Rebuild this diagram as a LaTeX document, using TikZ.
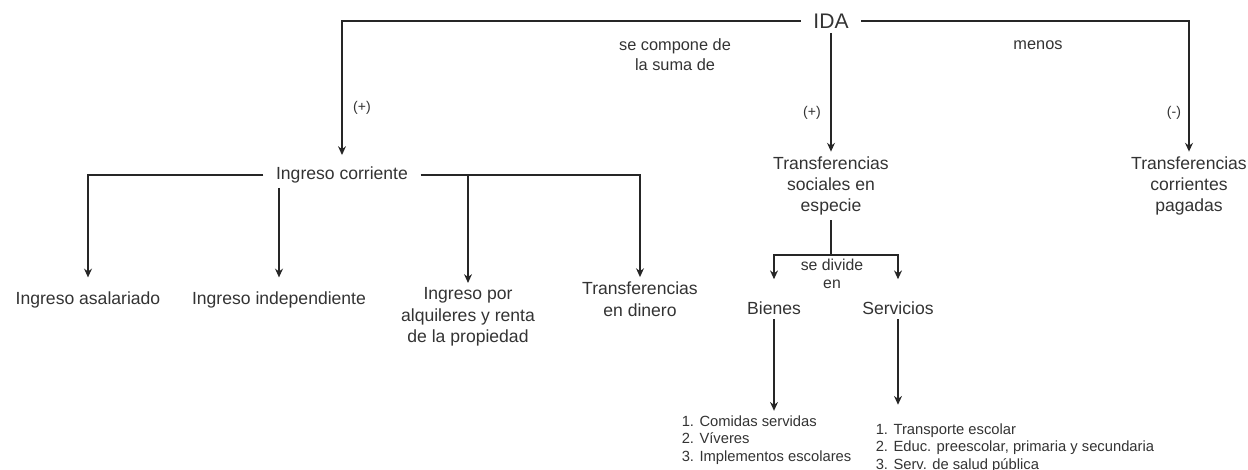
\documentclass[tikz,border=0pt]{standalone}
\usepackage{fontspec}
\setmainfont{Liberation Sans}
\usetikzlibrary{arrows.meta}

\begin{document}
\begin{tikzpicture}[x=0.02cm, y=-0.02cm,
	every node/.style={text=black!80, inner sep=2.5pt},
	box/.style={align=center, font=\fontsize{10}{12.2}\selectfont},
	hub/.style={box, inner xsep=7pt},
	lbl/.style={align=center, font=\fontsize{9.3}{11.4}\selectfont},
	sgn/.style={font=\fontsize{8}{10}\selectfont},
	lst/.style={align=left, anchor=west, font=\fontsize{8.4}{10}\selectfont},
	ln/.style={draw=black!85, line width=0.8pt},
	arr/.style={ln, -{Stealth[length=5pt, width=4.5pt]}},
	]
	\useasboundingbox (0,0) rectangle (1248,470);

	\node[hub, font=\fontsize{12}{14}\selectfont] (IDA) at (831,21) {IDA};
	\node[hub] (IngCor) at (342,175) {Ingreso corriente};
	\node[box] (TransSoc) at (831,186) {Transferencias\\sociales en\\especie};
	\node[box] (TransPag) at (1189,186) {Transferencias\\corrientes\\pagadas};

	\node[box] (IngAsal) at (88,300) {Ingreso asalariado};
	\node[box] (IngInd) at (279,300) {Ingreso independiente};
	\node[box] (IngAlq) at (468,317) {Ingreso por\\alquileres y renta\\de la propiedad};
	\node[box] (TransDin) at (640,299) {Transferencias\\en dinero};

	\node[box] (Bien) at (774,308) {Bienes};
	\node[box] (Serv) at (898,308) {Servicios};
	\node[lst] (BienList) at (677,440) {1. Comidas servidas\\2. Víveres\\3. Implementos escolares};
	\node[lst] (ServList) at (871,448) {1. Transporte escolar\\2. Educ. preescolar, primaria y secundaria\\3. Serv. de salud pública};

	\node[lbl] (Comp) at (675,55) {se compone de\\la suma de};
	\node[lbl] (Menos) at (1038,45) {menos};
	\node[lbl, font=\fontsize{9}{10.2}\selectfont] (Div) at (832,274) {se divide\\en};
	\node[sgn] (SgnA) at (362,108) {(+)};
	\node[sgn] (SgnB) at (812,113) {(+)};
	\node[sgn] (SgnC) at (1174,113) {(-)};

	\coordinate (Split) at (831,255);

	\draw[arr, shorten >=4pt] (IDA.west) -| (IngCor.north);
	\draw[arr] (IDA.south) -- (TransSoc.north);
	\draw[arr] (IDA.east) -| (TransPag.north);

	\draw[arr, shorten >=5.5pt] (IngCor.west) -| (IngAsal.north);
	\draw[arr, shorten >=5.5pt] (IngInd |- IngCor.south) -- (IngInd.north);
	\draw[arr] (IngCor.east) -| (TransDin.north);
	\draw[arr] (IngAlq |- IngCor.east) -- (IngAlq.north);

	\draw[ln] (TransSoc.south) -- (Split);
	\draw[arr, shorten >=10pt] (Split) -| (Bien.north);
	\draw[arr, shorten >=10pt] (Split) -| (Serv.north);
	\draw[arr] (Bien.south) -- (Bien |- BienList.north);
	\draw[arr, shorten >=8pt] (Serv.south) -- (Serv |- ServList.north);
\end{tikzpicture}
\end{document}
